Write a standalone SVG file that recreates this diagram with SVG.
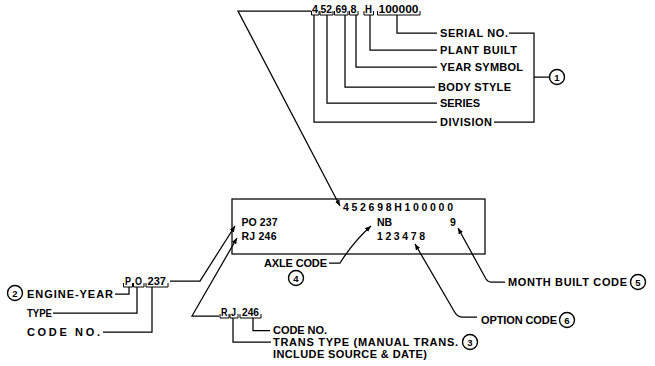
<svg xmlns="http://www.w3.org/2000/svg" width="655" height="366" viewBox="0 0 655 366">
<style>
text{font-family:"Liberation Sans",Arial,sans-serif;font-weight:bold;font-size:11px;fill:#000}
.sm{font-size:10.5px}
.bx{font-size:10.5px}
.num{font-size:9.5px;text-anchor:middle}
.ln{fill:none;stroke:#000;stroke-width:1.25}
.br{fill:none;stroke:#000;stroke-width:1}
.cir{fill:#fff;stroke:#000;stroke-width:1.4}
</style>
<defs>
<marker id="ah" markerUnits="userSpaceOnUse" markerWidth="6" markerHeight="5" refX="6" refY="2.5" orient="auto">
<path d="M0,0 L6,2.5 L0,5 z" fill="#000"/>
</marker>
</defs>
<rect width="655" height="366" fill="#fff"/>

<g id="connectors">
<path class="ln" d="M311,11 H238 L340,206" marker-end="url(#ah)"/>
<path class="ln" d="M314,15 V122 H437"/>
<path class="ln" d="M327,15 V103 H437"/>
<path class="ln" d="M345,15 V87 H435"/>
<path class="ln" d="M356,15 V67 H437"/>
<path class="ln" d="M370,15 V50 H437"/>
<path class="ln" d="M397,15 V33 H437"/>
<path class="ln" d="M509,33 H534 V122 H494 M534,77 H549.5"/>
<path class="ln" d="M170,281 H200 L235,226" marker-end="url(#ah)"/>
<path class="ln" d="M219,316 H192 L237,238" marker-end="url(#ah)"/>
<path class="ln" d="M129,287 V294 H115"/>
<path class="ln" d="M137,287 V313 H53"/>
<path class="ln" d="M152,287 V332 H103"/>
<path class="ln" d="M233,318 V342 H271"/>
<path class="ln" d="M253,318 V330.5 H270"/>
<path class="ln" d="M329,263 H340 Q354,241 371,226" marker-end="url(#ah)"/>
<path class="ln" d="M477,317 H462 Q457,317 454,311 L415,244" marker-end="url(#ah)"/>
<path class="ln" d="M505,282 H491 Q488,282 486,279 L458,228" marker-end="url(#ah)"/>
</g>

<g id="vin-tag">
<text class="sm" x="312" y="13" textLength="6" lengthAdjust="spacingAndGlyphs">4</text>
<text class="sm" x="320.5" y="13" textLength="11.5" lengthAdjust="spacingAndGlyphs">52</text>
<text class="sm" x="335.5" y="13" textLength="11.5" lengthAdjust="spacingAndGlyphs">69</text>
<text class="sm" x="350.5" y="13" textLength="6" lengthAdjust="spacingAndGlyphs">8</text>
<text class="sm" x="365" y="13" textLength="7" lengthAdjust="spacingAndGlyphs">H</text>
<text class="sm" x="378.5" y="13" textLength="40" lengthAdjust="spacingAndGlyphs">100000</text>
<path class="br" d="M311.5,11 V15 H319 V11 M320,11 V15 H333 V11 M334.5,11 V15 H348 V11 M349.5,11 V15 H358 V11 M364,11 V15 H373.5 V11 M377.5,11 V15 H420 V11"/>
</g>

<g id="serial-no"><text x="440" y="37" textLength="68" lengthAdjust="spacing">SERIAL NO.</text></g>
<g id="plant-built"><text x="440" y="54" textLength="77" lengthAdjust="spacing">PLANT BUILT</text></g>
<g id="year-symbol"><text x="440" y="71" textLength="83" lengthAdjust="spacing">YEAR SYMBOL</text></g>
<g id="body-style"><text x="438" y="91" textLength="73" lengthAdjust="spacing">BODY STYLE</text></g>
<g id="series"><text x="440" y="107" textLength="40" lengthAdjust="spacing">SERIES</text></g>
<g id="division"><text x="440" y="126" textLength="52" lengthAdjust="spacing">DIVISION</text></g>
<g id="c1"><circle class="cir" cx="557" cy="77" r="7.5"/><text class="num" x="557" y="80.5">1</text></g>

<g id="plate">
<rect class="ln" x="232" y="199" width="253" height="55"/>
<text class="bx" x="343" y="211" textLength="110" lengthAdjust="spacing">452698H100000</text>
<text class="bx" x="241.5" y="226" textLength="36" lengthAdjust="spacing">PO 237</text>
<text class="bx" x="241.5" y="240" textLength="35" lengthAdjust="spacing">RJ 246</text>
<text class="bx" x="377" y="226">NB</text>
<text class="bx" x="377" y="240" textLength="48" lengthAdjust="spacing">123478</text>
<text class="bx" x="450" y="226">9</text>
</g>

<g id="po-tag">
<text class="sm" x="125" y="285" textLength="6" lengthAdjust="spacingAndGlyphs">P</text>
<text class="sm" x="135" y="285" textLength="7" lengthAdjust="spacingAndGlyphs">O</text>
<text class="sm" x="147.5" y="285" textLength="18.5" lengthAdjust="spacingAndGlyphs">237</text>
<path class="br" d="M123.5,283 V287 H132.5 V283 M133.5,283 V287 H144 V283 M146,283 V287 H168 V283"/>
</g>
<g id="c2"><circle class="cir" cx="15" cy="293" r="7.5"/><text class="num" x="15" y="296.5">2</text></g>
<g id="engine-year"><text x="27" y="298" textLength="86" lengthAdjust="spacing">ENGINE-YEAR</text></g>
<g id="type"><text x="27" y="317" textLength="25" lengthAdjust="spacingAndGlyphs">TYPE</text></g>
<g id="code-no-engine"><text x="27" y="336" textLength="73" lengthAdjust="spacing">CODE NO.</text></g>

<g id="rj-tag">
<text class="sm" x="221" y="316" textLength="6.5" lengthAdjust="spacingAndGlyphs">R</text>
<text class="sm" x="231" y="316" textLength="5" lengthAdjust="spacingAndGlyphs">J</text>
<text class="sm" x="242" y="316" textLength="17" lengthAdjust="spacingAndGlyphs">246</text>
<path class="br" d="M220,314 V318 H229 V314 M230,314 V318 H238 V314 M240,314 V318 H261 V314"/>
</g>
<g id="code-no-trans"><text x="273" y="334" textLength="54" lengthAdjust="spacing">CODE NO.</text></g>
<g id="trans-type">
<text x="273" y="346" textLength="185" lengthAdjust="spacing">TRANS TYPE (MANUAL TRANS.</text>
<text x="273" y="358" textLength="154" lengthAdjust="spacing">INCLUDE SOURCE &amp; DATE)</text>
</g>
<g id="c3"><circle class="cir" cx="470" cy="342" r="7.5"/><text class="num" x="470" y="345.5">3</text></g>

<g id="axle-code"><text x="264" y="267" textLength="63" lengthAdjust="spacing">AXLE CODE</text></g>
<g id="c4"><circle class="cir" cx="296" cy="278" r="7.5"/><text class="num" x="296" y="281.5">4</text></g>

<g id="month-built"><text x="508" y="286" textLength="119" lengthAdjust="spacing">MONTH BUILT CODE</text></g>
<g id="c5"><circle class="cir" cx="638" cy="282" r="7.5"/><text class="num" x="638" y="285.5">5</text></g>

<g id="option-code"><text x="481" y="324" textLength="76" lengthAdjust="spacing">OPTION CODE</text></g>
<g id="c6"><circle class="cir" cx="567" cy="320" r="7.5"/><text class="num" x="567" y="323.5">6</text></g>
</svg>
